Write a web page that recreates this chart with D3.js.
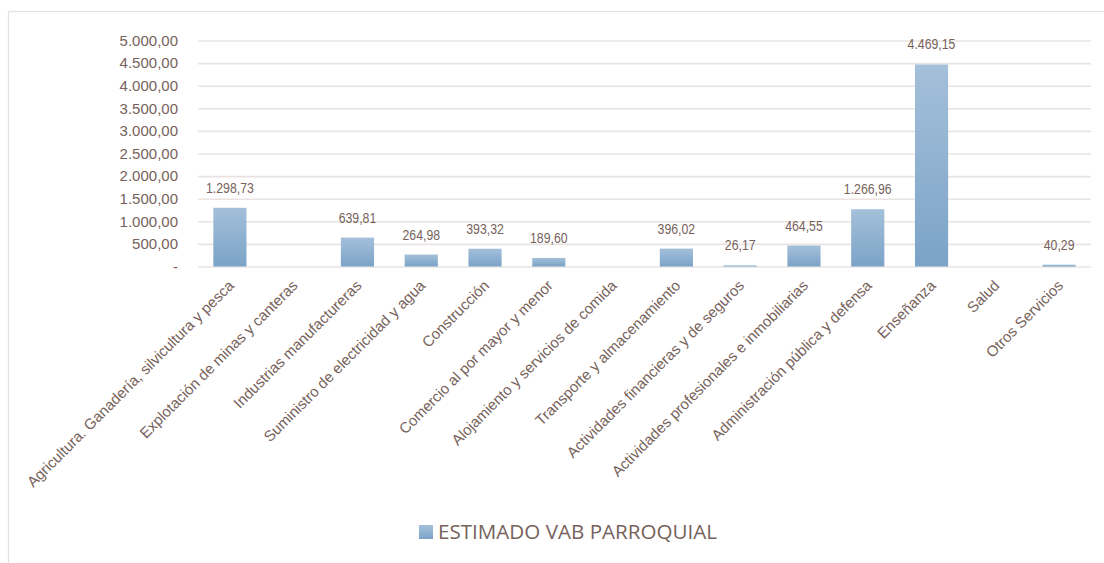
<!DOCTYPE html>
<html>
<head>
<meta charset="utf-8">
<script src="https://cdn.jsdelivr.net/npm/d3@7"></script>
<style>
  body { margin: 0; background: #fff; }
  svg { display: block; }
</style>
</head>
<body>
<div id="chart"></div>
<script>
const width = 1104, height = 563;
const margin = {'top':40.5,'right':13,'bottom':296.5,'left':198};

var categories = ['Agricultura. Ganadería, silvicultura y pesca', 'Explotación de minas y canteras',
                  'Industrias manufactureras', 'Suministro de electricidad y agua', 'Construcción',
                  'Comercio al por mayor y menor', 'Alojamiento y servicios de comida',
                  'Transporte y almacenamiento', 'Actividades financieras y de seguros',
                  'Actividades profesionales e inmobiliarias', 'Administración pública y defensa',
                  'Enseñanza', 'Salud', 'Otros Servicios'];
var values = [1298.73, 0, 639.81, 264.98, 393.32, 189.60, 0, 396.02, 26.17, 464.55, 1266.96, 4469.15, 0, 40.29];
var yTicks = [0, 500, 1000, 1500, 2000, 2500, 3000, 3500, 4000, 4500, 5000];
var seriesName = 'ESTIMADO VAB PARROQUIAL';

const textColor = '#76625b';
const gridColor = '#e9e4e1';

const es = d3.formatLocale({'decimal':',', 'thousands':'.', 'grouping':[3], 'currency':['','']});
const fmt = es.format(',.2f');
const fmtTick = d => d === 0 ? '-' : fmt(d);

var svg = d3.select('#chart').append('svg')
            .attr('width', width)
            .attr('height', height);

// outer chart border (only left/top visible in frame)
svg.append('rect')
   .attr('x', 8.5).attr('y', 11.5)
   .attr('width', 1200).attr('height', 700)
   .attr('fill', 'none')
   .attr('stroke', '#e6e1de')
   .attr('stroke-width', 1.3);

var defs = svg.append('defs');
var grad = defs.append('linearGradient')
               .attr('id', 'barGrad')
               .attr('x1', 0).attr('y1', 0).attr('x2', 0).attr('y2', 1);
grad.append('stop').attr('offset', '0%').attr('stop-color', '#a4c0da');
grad.append('stop').attr('offset', '100%').attr('stop-color', '#7ba3c7');

var g = svg.append('g')
           .attr('transform', `translate(${margin.left},${margin.top})`);

const plotW = width - margin.left - margin.right;
const plotH = height - margin.top - margin.bottom;

var x = d3.scaleBand()
          .domain(categories)
          .range([0, plotW])
          .paddingInner(0.48)
          .paddingOuter(0.24);

var y = d3.scaleLinear()
          .domain([0, 5000])
          .range([plotH, 0]);

// grid
g.append('g')
 .attr('class', 'grid')
 .call(d3.axisLeft(y).tickValues(yTicks).tickSize(-plotW).tickFormat(''))
 .call(s => s.select('.domain').remove())
 .selectAll('line')
 .attr('stroke', gridColor)
 .attr('stroke-width', 1.6);

// y labels
g.append('g')
 .call(d3.axisLeft(y).tickValues(yTicks).tickSize(0).tickPadding(20).tickFormat(fmtTick))
 .call(s => s.select('.domain').remove())
 .selectAll('text')
 .attr('fill', textColor)
 .attr('font-family', 'Liberation Sans, Arial, sans-serif')
 .attr('font-size', '15px');

// bars
g.selectAll('.bar')
 .data(values)
 .enter().append('rect')
 .attr('class', 'bar')
 .attr('x', (d, i) => x(categories[i]))
 .attr('width', x.bandwidth())
 .attr('y', d => y(d))
 .attr('height', d => plotH - y(d))
 .attr('fill', 'url(#barGrad)');

// value labels (zero values get no label)
var labelled = values.map((v, i) => ({'cat':categories[i], 'v':v})).filter(d => d.v > 0);
g.selectAll('.val')
 .data(labelled)
 .enter().append('text')
 .attr('class', 'val')
 .attr('transform', d => `translate(${x(d.cat) + x.bandwidth() / 2},${y(d.v) - 15}) scale(0.82,1)`)
 .attr('text-anchor', 'middle')
 .attr('fill', textColor)
 .attr('font-family', 'Liberation Sans, Arial, sans-serif')
 .attr('font-size', '15px')
 .text(d => fmt(d.v));

// category labels
g.append('g')
 .attr('transform', `translate(0,${plotH})`)
 .call(d3.axisBottom(x).tickSize(0).tickFormat(d => d))
 .call(s => s.select('.domain').remove())
 .selectAll('text')
 .attr('fill', textColor)
 .attr('font-family', 'Liberation Sans, Arial, sans-serif')
 .attr('font-size', '15px')
 .attr('text-anchor', 'end')
 .attr('dy', 0)
 .attr('y', 0)
 .attr('transform', 'translate(5,20) rotate(-45)');

// legend
var legend = svg.append('g')
                .attr('transform', 'translate(419,525)');
legend.append('rect')
      .attr('width', 14).attr('height', 14)
      .attr('fill', 'url(#barGrad)');
legend.append('text')
      .attr('x', 19).attr('y', 14)
      .attr('fill', textColor)
      .attr('font-family', 'Open Sans, sans-serif')
      .attr('font-size', '20.6px')
      .text(seriesName);
</script>
</body>
</html>
